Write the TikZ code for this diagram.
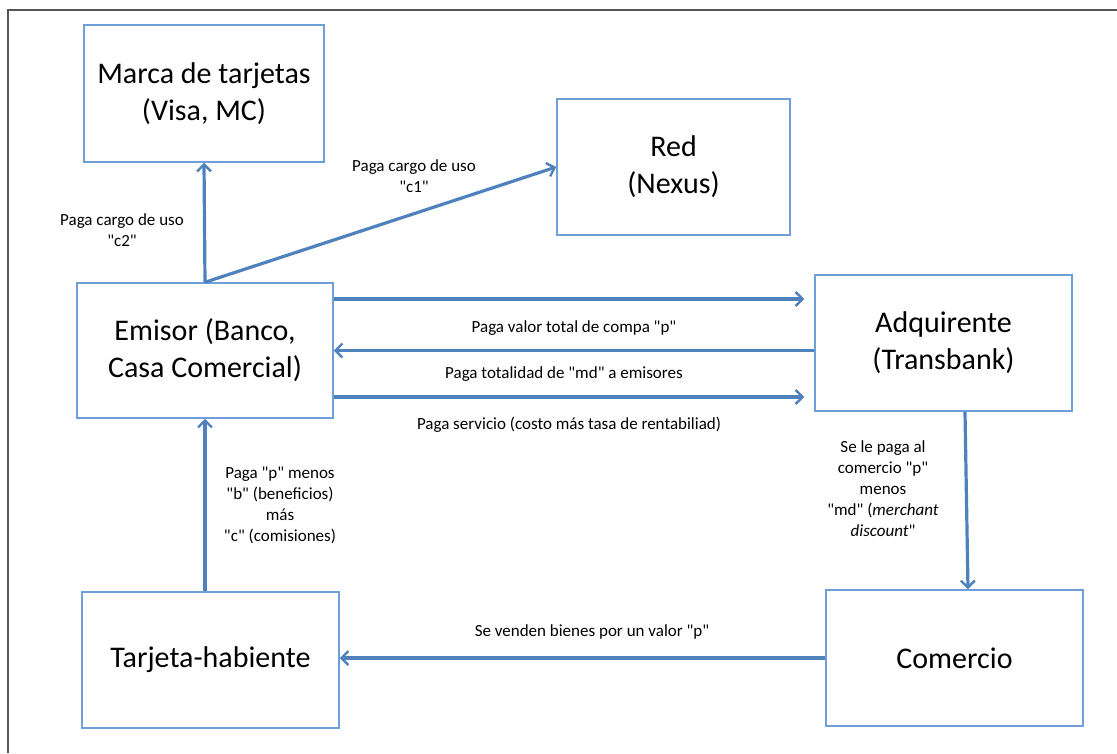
\documentclass[tikz,border=0pt]{standalone}
\usepackage{fontspec}
\setmainfont{Carlito}[Ligatures=TeXOff]
\usetikzlibrary{arrows.meta}

\definecolor{cajaazul}{HTML}{6F9FD8}
\definecolor{flechaazul}{HTML}{4F81BD}
\definecolor{marco}{HTML}{555555}

\begin{document}
\begin{tikzpicture}
[
	x=1pt,y=-1pt,
	entidad/.style={draw=cajaazul,line width=1.5pt,minimum width=#1,minimum height=136pt,
		inner sep=0pt,align=center,font=\fontsize{30}{37}\selectfont},
	entidad/.default=257pt,
	etiqueta/.style={align=center,inner sep=1pt,font=\fontsize{17}{21}\selectfont},
	flecha/.style={draw=flechaazul,line width=3.2pt,-{Straight Barb[length=7pt,width=14pt,line width=2.4pt]}}
]

	\useasboundingbox (0,0) rectangle (1117,753);

	% frame
	\draw[marco,line width=2.4pt] (8,753) -- (8,10) -- (1117,10);

	% boxes
	\node[entidad=240pt,minimum height=137pt] (marca) at (204,93.5) {Marca de tarjetas\\(Visa, MC)};
	\node[entidad=233pt] (red) at (673.5,167) {Red\\(Nexus)};
	\node[entidad=256pt,minimum height=135pt] (emisor) at (205,350.5) {Emisor (Banco,\\Casa Comercial)};
	\node[entidad] (adq) at (943.5,343) {Adquirente\\(Transbank)};
	\node[entidad] (tarjeta) at (210.5,660) {Tarjeta-habiente};
	\node[entidad] (comercio) at (954.5,658) {Comercio};

	% arrows
	\draw[flecha] (emisor.north) -- (marca.south);
	\draw[flecha] (emisor.north) -- (red.west);

	\coordinate (e1) at ([yshift=51.5pt]emisor.east);
	\coordinate (e2) at (emisor.east);
	\coordinate (e3) at ([yshift=-46.5pt]emisor.east);
	\draw[flecha,shorten >=10pt] (e1) -- (e1 -| adq.west);
	\draw[flecha] (e2 -| adq.west) -- (e2);
	\draw[flecha,shorten >=10pt] (e3) -- (e3 -| adq.west);

	\coordinate (a1) at ([xshift=21.5pt]adq.south);
	\coordinate (c1) at ([xshift=13.5pt]comercio.north);
	\draw[flecha] (a1) -- (c1);

	\draw[flecha] (comercio.west) -- (comercio.west -| tarjeta.east);
	\draw[flecha] (tarjeta.north -| emisor.south) -- (emisor.south);

	% labels
	\node[etiqueta] (lc2) at (122,230) {Paga cargo de uso\\"c2"};
	\node[etiqueta] (lc1) at (414,176) {Paga cargo de uso\\"c1"};
	\node[etiqueta] (lvalor) at (574,328) {Paga valor total de compa "p"};
	\node[etiqueta] (ltotal) at (564,374) {Paga totalidad de "md" a emisores};
	\node[etiqueta] (lservicio) at (569,425) {Paga servicio (costo más tasa de rentabiliad)};
	\node[etiqueta] (lpaga) at (280,505) {Paga "p" menos\\"b" (beneficios)\\más\\"c" (comisiones)};
	\node[etiqueta] (lmd) at (883,489) {Se le paga al\\comercio "p"\\menos\\"md" (\textit{merchant}\\\textit{discount}"};
	\node[etiqueta] (lventa) at (592,632) {Se venden bienes por un valor "p"};

\end{tikzpicture}
\end{document}
